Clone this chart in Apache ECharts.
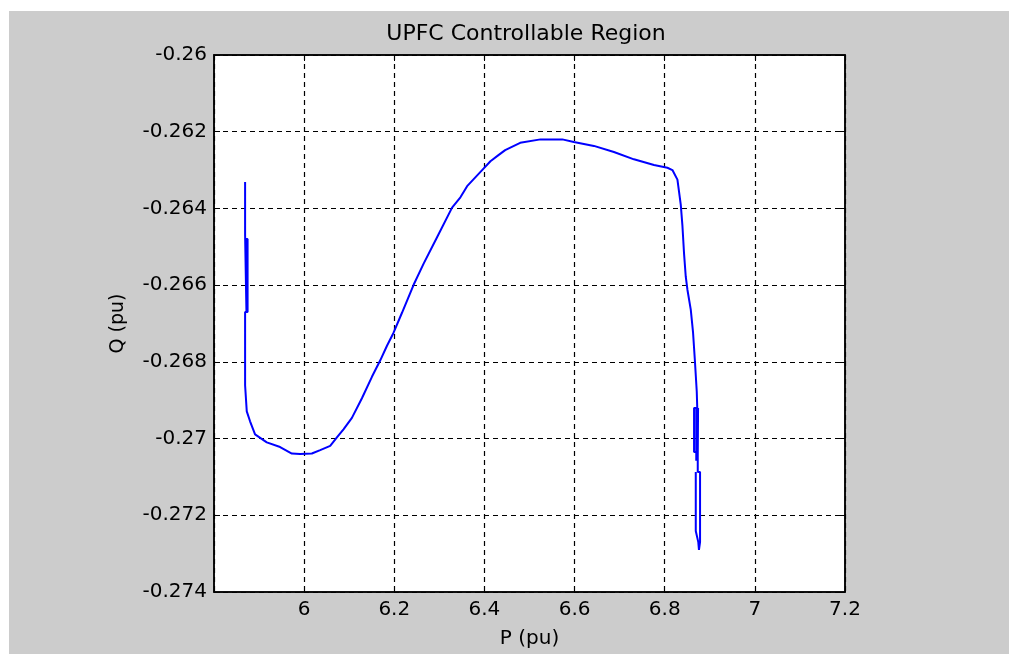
<!DOCTYPE html>
<html>
<head>
<meta charset="utf-8">
<script src="https://cdn.jsdelivr.net/npm/echarts@6/dist/echarts.min.js"></script>
<style>
  html, body { margin: 0; padding: 0; background: #ffffff; }
  #wrap { position: relative; width: 1009px; height: 654px; background: #ffffff; overflow: hidden; }
  #chart { position: absolute; left: 9px; top: 11px; width: 1000px; height: 643px; background: #cccccc; }
</style>
</head>
<body>
<div id="wrap"><div id="chart"></div></div>
<script>
// P (pu) values of the traced boundary, in drawing order
const pValues = [
  5.869, 5.869, 5.872, 5.872, 5.870, 5.870, 5.8745, 5.8745, 5.869, 5.869,
  5.8727, 5.880, 5.8911, 5.9171, 5.9467, 5.9727, 5.9911, 6.0171, 6.0356, 6.0578,
  6.0727, 6.0873, 6.106, 6.1282, 6.1504, 6.1689, 6.1838, 6.1984, 6.2171, 6.2429,
  6.2651, 6.2949, 6.3282, 6.3467, 6.3616, 6.3949, 6.4133, 6.4311, 6.4460, 6.4793,
  6.5244, 6.5727, 6.5984, 6.6429, 6.6873, 6.7318, 6.7762, 6.8060, 6.8171, 6.8282,
  6.8356, 6.8393, 6.8429, 6.8467, 6.8504, 6.8578, 6.8629, 6.8667, 6.8711, 6.8722,
  6.8733, 6.8651, 6.8651, 6.8700, 6.8700, 6.8740, 6.8740, 6.8733, 6.8733, 6.8784,
  6.8784, 6.8760, 6.8745, 6.8689, 6.8689
];
// Q (pu) values, same order
const qValues = [
  -0.26331, -0.2647, -0.2647, -0.2667, -0.2667, -0.2648, -0.2648, -0.2667, -0.2667, -0.26861,
  -0.26929, -0.26955, -0.26989, -0.27010, -0.27022, -0.27039, -0.2704, -0.27039, -0.2703, -0.27019,
  -0.26997, -0.26976, -0.26946, -0.26895, -0.26839, -0.26796, -0.26758, -0.26724, -0.26672, -0.26599,
  -0.26544, -0.26475, -0.26398, -0.26371, -0.26342, -0.263, -0.26277, -0.26261, -0.26248, -0.26229,
  -0.2622, -0.2622, -0.26227, -0.26237, -0.26253, -0.26272, -0.26287, -0.26294, -0.263, -0.26325,
  -0.2639, -0.26445, -0.26518, -0.26578, -0.26612, -0.26664, -0.26724, -0.26792, -0.26878, -0.2692,
  -0.27035, -0.27035, -0.2692, -0.2692, -0.27058, -0.27058, -0.2692, -0.2705, -0.27087, -0.27087,
  -0.2727, -0.2729, -0.2727, -0.27241, -0.27087
];
const xTicks = { min: 5.8, max: 7.2, step: 0.2 };
const yTicks = { min: -0.274, max: -0.26, step: 0.002 };
const titleText = 'UPFC Controllable Region';
const xName = 'P (pu)';
const yName = 'Q (pu)';

const points = pValues.map((p, i) => [p, qValues[i]]);
const font = "'DejaVu Sans', 'Liberation Sans', Arial, sans-serif";
const gridLine = { show: true, lineStyle: { color: '#000000', width: 1.2, type: [5, 4] } };
const tickIn = { show: true, inside: true, length: 6, lineStyle: { color: '#000000', width: 1 } };
const axLine = { show: true, onZero: false, lineStyle: { color: '#000000', width: 1.5 } };
const fmtY = v => parseFloat(Number(v).toFixed(3)).toString();
const fmtX = v => parseFloat(Number(v).toFixed(1)).toString();

const chart = echarts.init(document.getElementById('chart'), null, { renderer: 'canvas' });
chart.setOption({
  animation: false,
  backgroundColor: 'transparent',
  title: {
    text: titleText,
    left: 512,
    top: 7,
    textAlign: 'center',
    textStyle: { fontFamily: font, fontSize: 22, fontWeight: 'normal', color: '#000000' }
  },
  grid: {
    left: 205, top: 44, right: 164, bottom: 54,
    show: true, backgroundColor: '#ffffff', borderColor: '#000000', borderWidth: 1.5
  },
  xAxis: [{
    type: 'value', position: 'bottom',
    min: xTicks.min, max: xTicks.max, interval: xTicks.step,
    name: xName, nameLocation: 'middle', nameGap: 37,
    nameTextStyle: { fontFamily: font, fontSize: 20, color: '#000000' },
    axisLine: axLine, axisTick: tickIn, splitLine: gridLine,
    axisLabel: { showMinLabel: false, margin: 8, formatter: fmtX, fontFamily: font, fontSize: 20, color: '#000000' }
  }, {
    type: 'value', position: 'top',
    min: xTicks.min, max: xTicks.max, interval: xTicks.step,
    axisLine: axLine, axisTick: tickIn, splitLine: { show: false }, axisLabel: { show: false }
  }],
  yAxis: [{
    type: 'value', position: 'left',
    min: yTicks.min, max: yTicks.max, interval: yTicks.step,
    name: yName, nameLocation: 'middle', nameGap: 86,
    nameTextStyle: { fontFamily: font, fontSize: 19, color: '#000000' },
    axisLine: axLine, axisTick: tickIn, splitLine: gridLine,
    axisLabel: { margin: 7, formatter: fmtY, fontFamily: font, fontSize: 20, color: '#000000' }
  }, {
    type: 'value', position: 'right',
    min: yTicks.min, max: yTicks.max, interval: yTicks.step,
    axisLine: axLine, axisTick: tickIn, splitLine: { show: false }, axisLabel: { show: false }
  }],
  series: [{
    type: 'line',
    xAxisIndex: 0, yAxisIndex: 0,
    data: points,
    showSymbol: false,
    smooth: false,
    lineStyle: { color: '#0000ff', width: 2 },
    z: 5
  }]
});
</script>
</body>
</html>
